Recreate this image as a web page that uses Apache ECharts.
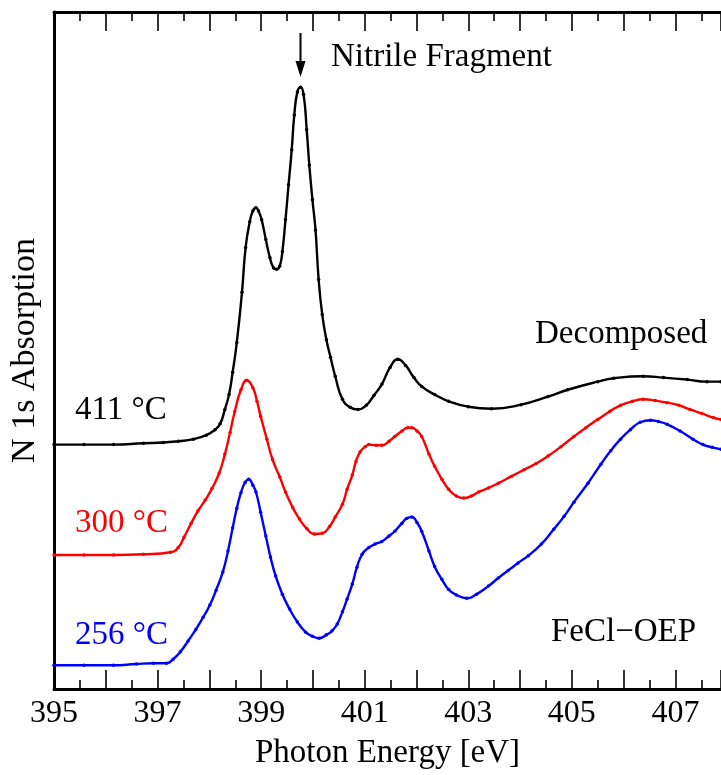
<!DOCTYPE html>
<html>
<head>
<meta charset="utf-8">
<script src="https://cdn.jsdelivr.net/npm/echarts@6/dist/echarts.min.js"></script>
<style>
html,body{margin:0;padding:0;background:#fff;}
#c{width:721px;height:775px;}
</style>
</head>
<body>
<div id="c"></div>
<script>
// Photon energy [eV] and absorption (arbitrary, offset) for each temperature
var black411X = [395.00,395.58,396.15,396.73,397.11,397.40,397.69,397.94,398.11,398.21,398.30,398.38,398.45,398.53,398.63,398.70,398.78,398.84,398.90,398.95,399.01,399.09,399.17,399.24,399.30,399.36,399.41,399.47,399.53,399.59,399.64,399.70,399.76,399.82,399.88,399.93,399.99,400.05,400.11,400.18,400.26,400.34,400.43,400.57,400.72,400.87,401.03,401.18,401.33,401.49,401.64,401.79,401.95,402.10,402.35,402.62,403.00,403.45,404.02,404.54,404.92,405.50,405.81,406.38,406.77,407.23,407.61,407.88];
var black411Y = [36.1,36.1,36.1,36.3,36.4,36.6,36.9,37.5,38.3,39.2,41.3,43.5,46.8,51.2,58.6,65.2,69.0,70.6,71.1,70.6,69.3,66.4,63.7,62.2,62.0,62.5,64.6,69.3,74.5,79.6,84.8,88.2,88.9,87.8,82.6,77.4,72.3,67.8,60.5,55.3,51.6,49.0,46.2,42.8,41.6,41.3,41.9,43.4,45.0,47.5,48.7,47.8,46.0,44.7,43.5,42.5,41.7,41.4,42.0,43.2,44.2,45.4,45.9,46.2,46.0,45.7,45.4,45.4];

var red300X = [395.00,395.58,396.15,396.73,397.25,397.40,397.51,397.65,397.78,397.92,398.05,398.19,398.30,398.40,398.49,398.61,398.72,398.84,398.92,398.99,399.11,399.22,399.36,399.47,399.61,399.74,399.88,400.03,400.18,400.32,400.43,400.57,400.66,400.76,400.83,400.91,401.01,401.08,401.22,401.33,401.47,401.58,401.72,401.83,401.91,402.01,402.10,402.24,402.35,402.49,402.62,402.77,402.91,403.06,403.20,403.39,403.58,403.83,404.08,404.31,404.54,404.79,405.04,405.27,405.50,405.73,405.94,406.17,406.38,406.61,406.84,407.07,407.28,407.51,407.73,407.88];
var red300Y = [19.8,19.8,19.8,19.9,20.2,20.9,22.4,24.5,26.3,27.9,29.6,31.9,34.7,37.9,41.0,44.2,45.6,44.5,42.5,40.3,36.9,33.9,31.3,29.1,26.8,25.1,23.7,22.9,23.0,24.0,25.4,27.3,29.5,31.6,33.6,35.0,35.8,36.1,36.0,36.0,36.6,37.3,38.1,38.6,38.6,38.1,37.3,34.7,32.9,31.0,29.5,28.5,28.2,28.5,29.1,29.7,30.4,31.4,32.4,33.3,34.4,35.8,37.3,38.6,39.8,41.0,41.9,42.5,42.8,42.6,42.3,41.9,41.3,40.7,40.1,39.8];

var blue256X = [395.00,395.58,396.15,396.59,396.92,397.17,397.30,397.44,397.59,397.74,397.88,398.01,398.13,398.26,398.36,398.45,398.53,398.61,398.69,398.76,398.84,398.90,398.99,399.09,399.18,399.28,399.41,399.55,399.70,399.86,399.99,400.12,400.26,400.37,400.47,400.57,400.66,400.76,400.85,400.95,401.08,401.20,401.33,401.47,401.58,401.72,401.81,401.91,402.01,402.10,402.24,402.35,402.49,402.62,402.77,402.97,403.16,403.39,403.58,403.77,403.96,404.16,404.41,404.65,404.85,405.04,405.31,405.56,405.75,405.94,406.13,406.32,406.52,406.67,406.84,407.09,407.34,407.53,407.71,407.88];
var blue256Y = [3.5,3.5,3.5,3.7,3.8,3.8,4.4,5.5,7.1,8.8,10.6,12.4,14.6,17.3,20.4,23.8,26.7,29.0,30.5,31.0,30.1,29.1,26.1,22.6,19.5,16.7,14.0,11.8,9.9,8.4,7.8,7.5,8.0,8.6,9.6,11.4,13.3,15.5,18.0,19.9,20.9,21.4,21.8,22.6,23.3,24.5,25.2,25.4,24.6,23.3,20.4,18.1,16.2,14.7,13.9,13.4,14.0,15.2,16.4,17.5,18.6,19.7,21.4,23.6,25.5,27.6,30.4,33.2,35.2,36.9,38.3,39.4,39.7,39.5,39.1,38.1,36.9,36.1,35.7,35.4];

var xTickLabels = ['395','397','399','401','403','405','407'];
var xMin = 395, xMax = 407.88;
var nitrilePeakX = 399.76;

function zip(xs, ys){ var o=[]; for (var i=0;i<xs.length;i++) o.push([xs[i], ys[i]]); return o; }

var FONT = 'Liberation Serif';
var FS = 33;
var chart = echarts.init(document.getElementById('c'), null, {renderer:'canvas'});

function mkSeries(name, xs, ys, color){
  return {
    name:name, type:'line', data: zip(xs, ys), smooth:0.5,
    symbol:'circle', symbolSize:3.5, showSymbol:true,
    lineStyle:{color:color, width:2.4}, itemStyle:{color:color},
    emphasis:{disabled:true}, z:3
  };
}

var tickCommon = {show:true, inside:true, length:19, lineStyle:{color:'#000', width:1.6}};
var minorCommon = {show:true, splitNumber:2, length:9, lineStyle:{color:'#000', width:1.6}};

chart.setOption({
  animation:false,
  backgroundColor:'#fff',
  grid:{left:50, right:0, top:12, bottom:85, containLabel:false},
  xAxis:[{
    type:'value', min:xMin, max:xMax, interval:1, position:'bottom',
    axisLine:{show:true, onZero:false, lineStyle:{color:'#000', width:3}},
    axisTick:tickCommon, minorTick:minorCommon,
    splitLine:{show:false},
    axisLabel:{show:true, margin:9, color:'#000', fontFamily:FONT, fontSize:32,
      showMaxLabel:false,
      formatter:function(v){ var s=String(Math.round(v)); return (Math.abs(v-Math.round(v))<1e-6 && xTickLabels.indexOf(s)>=0)? s : ''; }},
    name:'Photon Energy [eV]', nameLocation:'middle', nameGap:48,
    nameTextStyle:{color:'#000', fontFamily:FONT, fontSize:FS}
  },{
    type:'value', min:xMin, max:xMax, interval:1, position:'top',
    axisLine:{show:true, onZero:false, lineStyle:{color:'#000', width:3}},
    axisTick:tickCommon, minorTick:minorCommon,
    splitLine:{show:false}, axisLabel:{show:false}
  }],
  yAxis:{
    type:'value', min:0, max:100,
    axisLine:{show:true, onZero:false, lineStyle:{color:'#000', width:3}},
    axisTick:{show:false}, axisLabel:{show:false}, splitLine:{show:false},
    name:'N 1s Absorption', nameLocation:'middle', nameGap:12, nameRotate:90,
    nameTextStyle:{color:'#000', fontFamily:FONT, fontSize:34}
  },
  series:[
    mkSeries('411 °C', black411X, black411Y, '#000000'),
    mkSeries('300 °C', red300X, red300Y, '#ff0000'),
    mkSeries('256 °C', blue256X, blue256Y, '#0000ff')
  ]
});

var ax = chart.convertToPixel({xAxisIndex:0}, nitrilePeakX);
function txt(x, y, s, color){
  return {type:'text', x:x, y:y, z:10,
    style:{text:s, fill:color, font:FS+'px "'+FONT+'"', textVerticalAlign:'middle', textAlign:'left'}};
}
chart.setOption({
  graphic:[
    {type:'line', z:10, shape:{x1:ax, y1:33, x2:ax, y2:64}, style:{stroke:'#000', lineWidth:2}},
    {type:'polygon', z:10, shape:{points:[[ax-5,61],[ax+5,61],[ax,77]]}, style:{fill:'#000'}},
    txt(331, 57, 'Nitrile Fragment', '#000'),
    txt(535, 334, 'Decomposed', '#000'),
    txt(75, 410, '411 °C', '#000'),
    txt(75, 523, '300 °C', '#ff0000'),
    txt(75, 635, '256 °C', '#0000ff'),
    txt(551, 632, 'FeCl\u2212OEP', '#000')
  ]
});
</script>
</body>
</html>
